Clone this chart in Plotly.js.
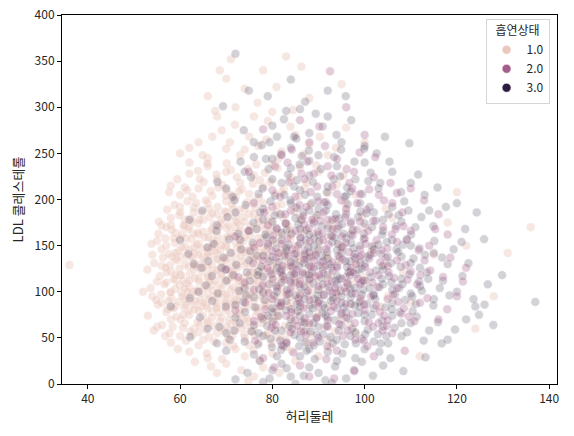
<!DOCTYPE html>
<html>
<head>
<meta charset="utf-8">
<script src="https://cdn.plot.ly/plotly-3.0.1.min.js"></script>
<style>
  body { margin: 0; background: #fff; }
  #chart { width: 574px; height: 436px; }
</style>
</head>
<body>
<div id="chart"></div>
<script>
// [허리둘레, LDL 콜레스테롤], per 흡연상태
const smoke1 = [
  [62,35],[66,28],[70,22],[74,30],[78,18],[64,42],[72,38],[80,33],[68,12],[85,25],[58,45],[90,30],[76,8],[83,40],
  [55,62],[58,70],[60,52],[62,75],[63,60],[65,48],[66,68],[67,78],[68,55],[69,72],[70,44],[71,65],[72,58],[73,76],
  [74,50],[75,68],[76,62],[77,45],[78,74],[79,55],[80,66],[82,50],[84,72],[86,58],[88,64],[92,48],[95,70],[57,78],
  [61,66],[64,56],[70,80],[75,42],[81,78],[90,76],[98,55],[53,74],
  [54,95],[56,88],[57,110],[58,100],[59,84],[60,118],[61,92],[62,105],[63,86],[64,114],[65,98],[66,82],[67,108],
  [68,94],[69,116],[70,88],[71,102],[72,84],[73,112],[74,96],[75,106],[76,90],[77,118],[78,100],[79,86],[80,110],
  [81,95],[82,104],[84,88],[85,116],[86,98],[88,108],[90,92],[92,114],[94,100],[97,86],[100,110],[52,100],[59,112],
  [62,90],[64,100],[66,115],[68,84],[70,110],[72,98],[74,82],[76,114],[78,92],[83,99],[87,84],[105,95],[110,88],
  [54,140],[56,128],[57,150],[58,122],[59,136],[60,158],[61,130],[62,145],[63,124],[64,152],[65,138],[66,126],
  [67,156],[68,142],[69,132],[70,150],[71,122],[72,138],[73,158],[74,128],[75,146],[76,134],[77,152],[78,124],
  [79,140],[80,156],[81,130],[82,144],[84,126],[85,150],[86,138],[88,128],[90,154],[92,136],[95,146],[98,130],
  [102,150],[55,155],[60,138],[63,148],[66,144],[68,124],[70,136],[72,154],[74,142],[76,120],[78,148],[83,136],
  [89,142],[115,140],[122,150],
  [56,172],[58,180],[59,164],[60,192],[62,170],[63,186],[64,162],[65,178],[66,196],[67,168],[68,184],[69,174],
  [70,198],[71,164],[72,182],[73,172],[74,190],[75,166],[76,184],[77,176],[78,196],[80,168],[81,186],[83,174],
  [85,192],[87,166],[89,180],[92,172],[96,188],[100,170],[61,178],[65,165],[70,186],[74,176],[79,180],[84,162],
  [106,180],[118,175],
  [58,215],[60,205],[62,228],[64,212],[66,236],[67,204],[68,222],[70,210],[71,232],[73,218],[75,206],[76,226],
  [78,214],[80,238],[82,208],[84,224],[87,212],[90,230],[94,216],[62,240],[72,202],[86,235],[98,205],
  [60,250],[64,262],[66,245],[69,275],[70,255],[73,248],[75,268],[77,258],[79,285],[82,252],[85,270],[88,260],
  [92,248],[96,278],[68,290],[80,295],[100,262],[72,300],
  [74,320],[78,340],[83,355],[71,352],[88,310],[95,325],[66,312],
  [36,129],[131,142],[136,170],[128,95],[124,60],[120,208],[112,30],
  [59.5,38],[63.2,24],[65.8,33],[67.4,46],[69.1,27],[71.6,41],[73.3,15],[75.9,37],[77.2,26],[79.8,44],[81.5,12],
  [84.2,36],[87.6,45],[61.3,47],[66.7,19],[70.4,49],[74.8,3],[82.9,47],[92.5,40],[56.8,52],
  [54.3,58],[56.1,64],[57.7,55],[59.2,73],[60.6,61],[61.9,79],[62.7,53],[63.8,67],[64.9,74],[65.5,59],[66.3,51],
  [67.2,63],[68.4,77],[69.7,57],[70.6,69],[71.3,52],[72.5,75],[73.1,61],[73.9,54],[74.6,71],[75.4,57],[76.8,79],
  [77.7,66],[78.6,53],[79.3,71],[80.4,59],[81.2,73],[82.7,63],[83.6,55],[85.1,77],[86.9,68],[88.3,54],[89.7,73],
  [91.4,62],[93.6,57],[96.8,64],[58.4,62],[60.1,70],[62.2,57],[64.2,64],[66.9,72],[68.8,60],[70.9,76],[72.1,66],
  [74.2,63],[76.1,53],[78.1,69],[80.9,51],[84.4,65],[87.3,59],
  [53.6,104],[55.2,86],[55.9,97],[56.6,108],[57.3,81],[58.1,93],[58.9,103],[59.6,89],[60.3,99],[60.9,83],
  [61.5,109],[62.4,96],[63.1,81],[63.6,102],[64.4,91],[65.2,106],[65.7,85],[66.5,95],[67.1,101],[67.8,88],
  [68.5,107],[69.3,97],[69.9,82],[70.7,93],[71.4,105],[72.2,91],[72.9,80],[73.6,102],[74.3,88],[75.1,98],
  [75.7,84],[76.4,108],[77.4,96],[78.2,86],[78.9,103],[79.7,92],[80.5,81],[81.3,107],[82.1,89],[82.8,97],
  [83.7,84],[84.6,105],[85.6,91],[86.5,109],[87.8,95],[89.2,87],[90.7,103],[92.3,84],[94.1,97],[96.4,106],
  [99.2,90],[103.4,84],[54.8,91],[57.9,99],[59.9,107],[61.2,86],[62.9,100],[64.7,84],[66.2,92],[68.1,99],
  [69.6,89],[71.1,86],[72.7,104],[74.9,93],[76.9,82],[79.1,98],[81.8,85],[84.1,94],[88.6,101],[93.2,91],
  [52.9,124],[54.4,131],[55.6,117],[56.3,137],[57.1,121],[57.8,129],[58.6,114],[59.3,134],[59.9,125],[60.7,112],
  [61.4,139],[62.1,119],[62.8,133],[63.5,127],[64.1,111],[64.8,121],[65.4,135],[66.1,117],[66.8,129],[67.5,112],
  [68.2,136],[68.9,119],[69.5,128],[70.3,113],[71.0,132],[71.8,117],[72.4,126],[73.2,139],[73.8,115],[74.5,131],
  [75.3,121],[76.0,137],[76.7,111],[77.5,128],[78.3,118],[79.0,134],[79.9,113],[80.7,124],[81.6,138],[82.4,116],
  [83.3,131],[84.3,121],[85.3,112],[86.2,133],[87.1,119],[88.4,137],[89.5,115],[90.9,127],[92.6,118],[94.4,133],
  [96.9,122],[99.8,116],[104.2,129],[55.0,111],[56.9,126],[58.3,138],[60.2,118],[61.8,127],[63.3,115],[65.0,126],
  [66.5,139],[68.0,123],[69.8,136],[71.5,121],[73.5,110],[75.8,126],[77.9,139],[80.2,119],[82.9,127],[85.8,136],
  [91.7,139],[97.5,111],[108.3,121],
  [53.8,152],[55.3,163],[56.0,146],[56.8,158],[57.5,141],[58.2,167],[58.9,153],[59.7,144],[60.4,162],[61.1,149],
  [61.7,168],[62.5,157],[63.2,142],[63.9,164],[64.6,147],[65.3,159],[66.0,141],[66.7,166],[67.4,151],[68.0,162],
  [68.7,145],[69.4,157],[70.1,169],[70.8,143],[71.7,160],[72.3,148],[73.0,166],[73.7,155],[74.4,144],[75.2,161],
  [75.9,151],[76.6,168],[77.3,142],[78.0,158],[78.8,147],[79.6,165],[80.3,152],[81.1,143],[82.0,162],[82.9,149],
  [84.0,158],[85.0,145],[86.3,165],[87.5,152],[88.9,163],[90.4,147],[92.0,159],[94.6,151],[97.2,166],[101.3,143],
  [57.0,170],[59.0,142],[61.3,158],[63.6,151],[65.8,148],[67.9,155],[69.9,149],[72.0,170],[74.1,159],[76.3,146],
  [78.5,167],[81.5,155],[83.8,167],[87.0,141],[93.3,168],
  [55.4,176],[57.2,189],[58.0,172],[58.8,194],[59.8,183],[60.8,171],[61.6,198],[62.3,179],[63.0,191],[63.9,174],
  [64.7,186],[65.6,199],[66.4,181],[67.3,173],[68.1,192],[68.9,178],[69.7,187],[70.5,172],[71.2,195],[72.0,177],
  [72.8,189],[73.6,181],[74.5,197],[75.3,171],[76.2,191],[77.0,180],[77.9,173],[78.8,188],[79.8,176],[80.9,193],
  [82.2,181],[83.5,171],[84.8,187],[86.4,178],[88.2,194],[90.1,183],[93.0,176],[95.8,196],[99.5,182],[104.6,190],
  [60.0,186],[62.6,176],[66.2,190],[70.2,181],[75.0,184],
  [57.6,208],[59.4,222],[61.0,213],[62.7,203],[63.9,231],[65.1,219],[66.6,209],[67.9,227],[69.2,216],[70.1,239],
  [71.0,205],[72.3,224],[73.4,211],[74.7,233],[75.8,217],[77.1,202],[78.4,229],[79.6,219],[81.1,234],[82.5,211],
  [84.0,221],[85.7,203],[87.4,218],[89.5,237],[92.1,207],[95.4,226],[65.9,239],[69.9,204],[76.5,238],[80.6,206],
  [62.0,256],[64.9,248],[67.0,268],[70.8,262],[71.9,281],[74.0,254],[76.0,290],[78.7,265],[81.3,244],[83.9,279],
  [86.8,249],[90.3,268],[93.8,256],[67.6,296],[84.5,297],
  [70.0,331],[76.8,305],[80.9,322],[86.3,344],[68.6,340],
  [58.5,82],[60.5,95],[62.0,112],[63.0,128],[64.0,140],[65.0,88],[66.0,104],[67.0,120],[68.0,135],[69.0,150],
  [70.0,97],[71.0,115],[72.0,130],[73.0,145],[74.0,108],[75.0,118],[76.0,100],[77.0,135],[78.0,110],[79.0,125],
  [59.0,118],[61.0,104],[62.5,138],[64.5,130],[66.4,111],[67.6,144],[69.0,104],[70.6,124],[72.6,112],[73.4,133],
  [75.5,139],[77.8,106],[80.0,130],[81.9,114],[83.0,141],
  [60.7,75],[63.4,90],[65.9,66],[67.9,82],[70.1,62],[71.9,90],[73.8,70],[76.4,74],[78.6,84],[80.6,72],[57.5,90],
  [61.6,100],[64.0,80],[68.7,68],[72.9,95],
  [58.7,158],[60.9,172],[62.9,163],[64.2,178],[66.1,159],[68.5,170],[70.4,160],[72.4,175],[74.8,166],[76.9,158],
  [79.2,172],[81.4,164],[63.5,196],[67.0,185],[71.4,190],[76.0,198],[60.4,148],[66.9,148],[73.0,150],[78.3,143],
  [61.5,210],[64.3,222],[68.3,213],[72.8,209],[77.3,221],[70.0,230],[82.0,195],[86.0,180],[85.0,130],[88.0,118]
];
const smoke2 = [
  [78,28],[82,42],[86,20],[90,50],[94,36],[98,48],[102,30],[88,8],[106,55],[84,56],
  [72,80],[76,68],[80,92],[83,74],[86,96],[88,66],[90,84],[92,62],[94,90],[96,72],[98,98],[100,80],[103,66],
  [105,92],[108,76],[112,88],[116,70],[120,95],
  [70,124],[74,110],[78,134],[81,104],[84,128],[86,112],[88,138],[90,106],[91,120],[93,132],[95,114],[97,126],
  [99,108],[101,136],[103,118],[105,128],[107,104],[110,122],[113,134],[117,116],[122,126],[76,102],[82,120],
  [89,126],[96,100],
  [72,160],[76,148],[79,172],[82,152],[85,166],[87,144],[89,176],[91,156],[93,168],[95,148],[97,174],[100,158],
  [102,142],[104,170],[107,154],[110,166],[114,150],[118,162],[80,144],[92,178],[99,146],
  [76,196],[80,210],[84,188],[87,222],[90,198],[93,214],[96,190],[99,206],[102,224],[106,196],[110,212],[116,184],
  [89,228],
  [82,248],[88,262],[94,244],[100,270],[86,286],[78,276],[96,300],
  [80.4,18],[84.6,34],[88.9,45],[91.7,27],[95.3,52],[97.8,14],[100.6,41],[103.9,58],[93.4,6],[86.2,57],[108.7,36],
  [76.3,47],
  [74.1,88],[77.5,73],[79.8,61],[81.6,84],[83.2,97],[84.9,69],[86.7,82],[88.1,91],[89.6,72],[91.2,96],[92.7,79],
  [94.5,65],[95.9,87],[97.4,76],[99.1,93],[100.9,67],[102.5,85],[104.3,74],[106.2,97],[108.5,82],[110.8,68],
  [113.6,93],[117.9,81],[79.2,99],[85.4,63],[93.8,99],[101.8,62],
  [72.6,116],[75.8,131],[77.9,107],[79.5,122],[80.8,137],[82.6,113],[83.9,103],[85.3,124],[86.9,135],[87.7,101],
  [89.3,117],[90.6,132],[91.9,109],[93.1,123],[94.3,139],[95.6,104],[96.8,118],[98.2,130],[99.6,112],[101.2,121],
  [102.8,105],[104.6,137],[106.4,115],[108.9,129],[111.4,108],[114.2,123],[118.6,137],[121.3,111],[84.7,119],
  [92.4,101],[97.7,138],[88.4,127],
  [74.8,166],[77.3,153],[80.2,161],[82.9,174],[84.3,146],[86.1,158],[87.9,169],[89.4,141],[90.8,163],[92.2,151],
  [93.7,179],[95.1,160],[96.6,143],[98.3,167],[100.2,152],[101.9,177],[103.7,145],[105.9,162],[108.4,171],
  [111.7,145],[115.3,168],[81.4,142],[88.6,178],[99.4,140],
  [78.2,186],[81.7,203],[83.6,219],[85.9,194],[88.3,208],[91.1,186],[92.8,226],[94.9,199],[97.3,212],[100.5,189],
  [103.1,205],[105.6,218],[108.2,186],[112.9,199],[86.7,182],[95.8,181],
  [80.6,236],[84.2,254],[87.6,241],[91.4,258],[96.1,233],[98.9,251],[90.2,279],[102.3,246],[74.9,230],[92.5,339],
  [83.1,45],[87.3,53],[91.9,41],[96.3,58],[99.8,47],[104.8,63],[80.7,64],[84.1,78],[87.0,71],[89.9,88],[92.0,69],
  [93.3,84],[95.1,77],[97.9,66],[99.9,86],[101.4,95],[103.3,78],[105.0,69],[107.3,89],[109.6,73],[82.0,88],
  [78.5,81],[86.0,88],
  [80.1,114],[82.2,128],[83.4,139],[85.9,108],[86.6,121],[88.0,113],[89.1,134],[90.2,118],[91.5,128],[92.9,111],
  [94.0,126],[95.2,135],[96.2,110],[97.5,121],[98.6,114],[100.1,127],[101.7,110],[103.4,132],[105.2,121],
  [107.0,134],[109.3,113],[112.1,118],[78.9,126],[84.0,110],[99.0,138],[93.6,104],
  [79.1,152],[81.0,168],[83.3,158],[85.6,150],[86.9,173],[88.2,155],[89.8,165],[91.7,146],[93.0,160],[94.4,171],
  [96.0,153],[97.4,161],[99.0,176],[100.8,166],[102.6,156],[104.9,147],[106.7,168],[109.2,156],[84.8,141],
  [90.4,177],
  [80.0,192],[82.8,184],[85.0,203],[87.4,192],[89.7,214],[91.6,197],[94.0,206],[96.7,218],[98.4,196],[101.0,211],
  [104.2,199],[86.3,228],[92.0,236],[83.3,240],[97.7,230],[107.0,207]
];
const smoke3 = [
  [72,5],[78,2],[80,15],[82,22],[84,8],[86,30],[88,18],[90,12],[92,35],[94,25],[96,6],[98,28],[100,38],[76,32],
  [85,0],[104,20],[70,36],[88,38],[81,30],
  [66,60],[70,55],[72,72],[74,46],[76,64],[78,52],[80,78],[82,58],[83,44],[84,70],[86,50],[87,66],[88,76],[89,42],
  [90,62],[91,54],[92,72],[94,48],[95,64],[96,78],[98,56],[100,68],[102,46],[104,62],[106,74],[108,52],[110,66],
  [114,58],[118,48],[122,70],[126,86],[68,44],
  [64,100],[67,90],[70,112],[72,86],[74,104],[76,94],[78,116],[80,82],[81,100],[82,110],[83,90],[84,118],[85,96],
  [86,84],[87,106],[88,114],[89,92],[90,102],[91,86],[92,118],[93,98],[94,108],[95,88],[96,116],[97,94],[98,104],
  [99,84],[100,112],[102,96],[104,108],[106,88],[108,114],[110,98],[112,106],[115,92],[117,112],[120,100],[124,84],
  [137,89],[58,84],
  [63,130],[66,148],[69,126],[71,142],[73,156],[75,134],[77,122],[79,150],[80,138],[81,126],[82,156],[83,144],
  [84,132],[85,120],[86,152],[87,140],[88,128],[89,158],[90,146],[91,124],[92,136],[93,154],[94,128],[95,142],
  [96,158],[97,122],[98,136],[99,150],[100,130],[102,146],[104,124],[106,156],[108,138],[110,150],[112,126],
  [115,142],[118,130],[121,154],[60,156],
  [68,172],[72,186],[75,166],[78,190],[80,176],[82,164],[84,196],[85,180],[86,168],[88,188],[89,174],[90,162],
  [92,194],[93,178],[94,168],[96,184],[97,162],[99,196],[100,174],[102,186],[104,166],[106,192],[108,176],
  [111,170],[114,188],[120,196],[62,178],
  [70,212],[74,230],[77,206],[80,244],[82,218],[84,234],[86,210],[88,226],[90,248],[92,214],[94,236],[96,204],
  [98,222],[100,240],[103,212],[106,230],[110,218],[76,246],[113,205],
  [76,262],[80,280],[84,256],[88,272],[92,290],[95,262],[100,258],[86,298],[81,268],
  [72,358],[84,330],[79,312],[92,318],
  [74.6,12],[77.3,25],[79.4,6],[81.9,37],[83.1,17],[86.8,9],[89.2,27],[91.5,4],[93.6,19],[95.2,33],[97.7,15],
  [99.4,24],[101.8,9],[103.2,35],[105.6,28],[87.4,36],[79.9,40],[92.9,1],[108.4,14],[113.2,29],
  [64.3,72],[68.5,62],[70.8,48],[72.9,66],[74.1,78],[75.5,57],[76.9,43],[77.8,71],[78.9,63],[79.6,49],[80.6,58],
  [81.3,74],[82.4,41],[83.7,63],[84.8,53],[85.5,79],[86.4,67],[87.2,45],[88.4,57],[89.5,71],[90.3,46],[90.9,77],
  [91.8,63],[92.6,51],[93.5,69],[94.4,58],[95.7,43],[96.5,71],[97.3,60],[98.6,77],[99.3,49],[100.7,59],[101.5,75],
  [102.9,54],[103.8,69],[105.1,44],[106.5,61],[107.6,78],[109.2,56],[111.3,73],[112.8,47],[115.9,67],[119.6,59],
  [124.8,75],[71.7,58],[80.1,68],[85.8,41],[88.9,66],[94.9,75],[98.1,44],[104.7,52],[110.4,79],[116.7,44],
  [62.2,51],[127.9,64],
  [62.1,93],[65.6,107],[68.2,98],[69.9,84],[71.5,118],[72.8,101],[73.7,89],[75.1,112],[76.3,83],[77.2,103],
  [78.4,91],[79.3,108],[80.4,96],[81.2,88],[82.3,117],[83.2,102],[84.1,81],[84.9,110],[85.7,93],[86.6,119],
  [87.4,99],[88.2,85],[88.9,109],[89.8,96],[90.6,115],[91.4,82],[92.3,105],[93.2,93],[94.1,117],[94.8,101],
  [95.5,83],[96.4,108],[97.2,98],[98.1,119],[98.9,89],[99.7,102],[100.6,87],[101.4,116],[102.3,92],[103.2,105],
  [104.5,83],[105.3,117],[106.6,97],[107.5,104],[108.8,91],[109.7,119],[111.1,87],[112.4,101],[113.8,114],
  [114.9,85],[116.3,104],[118.4,96],[121.2,117],[123.6,92],[126.7,108],[129.8,118],[76.8,118],[81.9,85],
  [86.1,104],[90.1,90],[93.7,112],[97.9,85],[101.9,97],[105.8,110],[110.3,95],[66.9,117],[74.4,96],[83.6,98],
  [91.1,97],[99.2,110],
  [61.8,141],[64.6,126],[67.3,152],[69.4,137],[70.6,157],[72.2,129],[73.3,146],[74.5,121],[75.7,153],[76.7,139],
  [77.6,127],[78.7,159],[79.5,133],[80.8,147],[81.7,122],[82.6,139],[83.5,151],[84.4,127],[85.2,142],[86.1,159],
  [86.9,131],[87.8,148],[88.6,121],[89.3,139],[90.2,155],[91.0,133],[91.9,143],[92.8,126],[93.6,159],[94.6,137],
  [95.3,149],[96.2,127],[97.1,153],[97.9,141],[98.7,124],[99.8,157],[100.7,138],[101.6,149],[102.5,123],
  [103.6,141],[104.8,154],[105.7,131],[106.9,146],[107.8,127],[109.1,157],[110.6,136],[111.9,147],[113.5,121],
  [115.1,155],[116.8,137],[119.3,146],[122.5,131],[125.9,157],[69.8,124],[75.2,144],[80.1,156],[84.8,135],
  [89.9,128],[94.2,152],[99.1,132],[103.9,128],[108.3,151],[113.1,140],[66.1,133],[87.2,156],[96.8,133],
  [64.8,188],[67.9,166],[70.3,181],[72.6,163],[74.2,194],[75.9,175],[77.4,186],[78.5,162],[79.6,198],[80.9,169],
  [81.8,184],[82.9,174],[84.2,163],[85.3,191],[86.3,178],[87.4,167],[88.5,196],[89.6,183],[90.7,171],[91.6,188],
  [92.7,161],[93.8,184],[95.1,173],[96.3,195],[97.5,167],[98.6,181],[99.8,163],[101.1,192],[102.4,177],
  [103.8,162],[105.2,184],[106.8,171],[108.6,198],[110.1,162],[112.3,181],[114.9,171],[117.6,192],[121.8,168],
  [124.3,186],[71.8,199],[83.9,199],[91.2,197],[100.4,185],[109.5,188],[76.6,168],
  [68.1,219],[71.4,203],[73.1,241],[75.4,224],[77.9,212],[79.2,233],[80.6,204],[81.9,249],[83.4,227],[84.7,214],
  [85.9,238],[87.1,205],[88.8,219],[90.5,233],[91.8,208],[93.4,246],[94.7,225],[96.2,213],[97.8,241],[99.5,206],
  [101.3,229],[103.4,218],[105.4,241],[107.9,208],[111.6,227],[115.8,213],[86.4,247],[78.6,244],[95.6,203],
  [102.6,250],
  [73.8,275],[77.7,259],[82.5,287],[85.2,266],[87.9,253],[90.9,279],[93.9,270],[97.1,286],[99.9,255],[104.4,268],
  [83.0,296],[89.4,293],[79.4,262],[109.7,261],
  [74.9,318],[87.1,306],[95.9,312],[69.3,301],
  [77.0,55],[81.7,47],[84.3,60],[86.9,57],[89.7,53],[93.1,44],[96.9,52],[100.1,54],[103.5,44],[79.0,74],[82.9,80],
  [86.0,74],[88.7,82],[91.6,74],[94.0,82],[97.0,87],[100.0,75],[102.0,82],[105.9,81],[108.0,66],
  [78.0,99],[80.9,106],[83.8,112],[85.4,87],[87.9,119],[90.9,108],[92.7,90],[95.0,95],[96.9,103],[99.4,97],
  [101.1,104],[103.7,114],[106.0,102],[108.2,108],[111.8,111],[79.8,119],[87.0,92],[94.5,114],
  [78.1,139],[81.4,132],[83.0,147],[85.8,128],[87.5,136],[89.0,150],[90.8,139],[92.4,130],[94.0,145],[95.9,133],
  [97.6,147],[99.4,125],[101.2,140],[103.0,151],[105.0,138],[107.3,143],[110.0,131],[82.0,124],[88.0,143],
  [96.5,121],
  [78.0,178],[80.5,183],[83.1,167],[86.7,186],[88.0,162],[90.0,190],[92.1,169],[94.5,179],[97.0,176],[99.1,187],
  [101.6,170],[104.0,178],[107.4,183],[85.6,173],[95.4,163],
  [80.0,222],[82.6,205],[85.3,221],[89.7,203],[93.3,222],[97.0,209],[100.8,220],[88.0,242],[94.9,254],[84.7,268]
];

const groupNames = ['1.0', '2.0', '3.0'];
const groupColors = ['#ebc7bd', '#a45e8b', '#2d1e3e'];
const groupOpacity = [0.42, 0.3, 0.2];
const groups = [smoke1, smoke2, smoke3];
// drawing order: light first, then darkest, mauve on top
const drawOrder = [0, 2, 1];

const xTicks = [40, 60, 80, 100, 120, 140];
const yTicks = [0, 50, 100, 150, 200, 250, 300, 350, 400];

const font = 'Noto Sans CJK KR, Noto Sans, sans-serif';

let traces = [];
drawOrder.forEach(i => {
  let g = groups[i];
  traces.push({
    type: 'scatter',
    mode: 'markers',
    x: g.map(p => p[0]),
    y: g.map(p => p[1]),
    showlegend: false,
    hoverinfo: 'skip',
    marker: {
      color: groupColors[i],
      size: 9,
      opacity: groupOpacity[i],
      line: { color: '#ffffff', width: 0.6 }
    }
  });
});
// legend only entries (full colour like seaborn's legend)
groups.forEach((g, i) => {
  traces.push({
    type: 'scatter',
    mode: 'markers',
    x: [null],
    y: [null],
    name: groupNames[i],
    marker: { color: groupColors[i], size: 9, line: { color: '#ffffff', width: 0.6 } }
  });
});

const layout = {
  width: 574,
  height: 436,
  margin: { l: 62, r: 17, t: 15, b: 52 },
  paper_bgcolor: '#ffffff',
  plot_bgcolor: '#ffffff',
  font: { family: font, size: 12, color: '#262626' },
  xaxis: {
    range: [34.4, 141.7],
    tickvals: xTicks,
    ticks: 'outside',
    ticklen: 4,
    tickcolor: '#000',
    showline: true,
    mirror: true,
    linecolor: '#000',
    linewidth: 1,
    showgrid: false,
    zeroline: false,
    title: { text: '허리둘레', font: { size: 13 }, standoff: 6 }
  },
  yaxis: {
    range: [0, 400],
    tickvals: yTicks,
    ticks: 'outside',
    ticklen: 4,
    tickcolor: '#000',
    showline: true,
    mirror: true,
    linecolor: '#000',
    linewidth: 1,
    showgrid: false,
    zeroline: false,
    title: { text: 'LDL 콜레스테롤', font: { size: 13 }, standoff: 8 }
  },
  legend: {
    x: 0.985,
    y: 0.99,
    xanchor: 'right',
    yanchor: 'top',
    bgcolor: 'rgba(255,255,255,0.8)',
    bordercolor: '#d6d6d6',
    borderwidth: 1,
    font: { size: 12 },
    itemwidth: 30,
    tracegroupgap: 2,
    title: { text: '흡연상태', side: 'top center', font: { size: 12 } }
  }
};

Plotly.newPlot('chart', traces, layout, { displayModeBar: false, staticPlot: true });
</script>
</body>
</html>
